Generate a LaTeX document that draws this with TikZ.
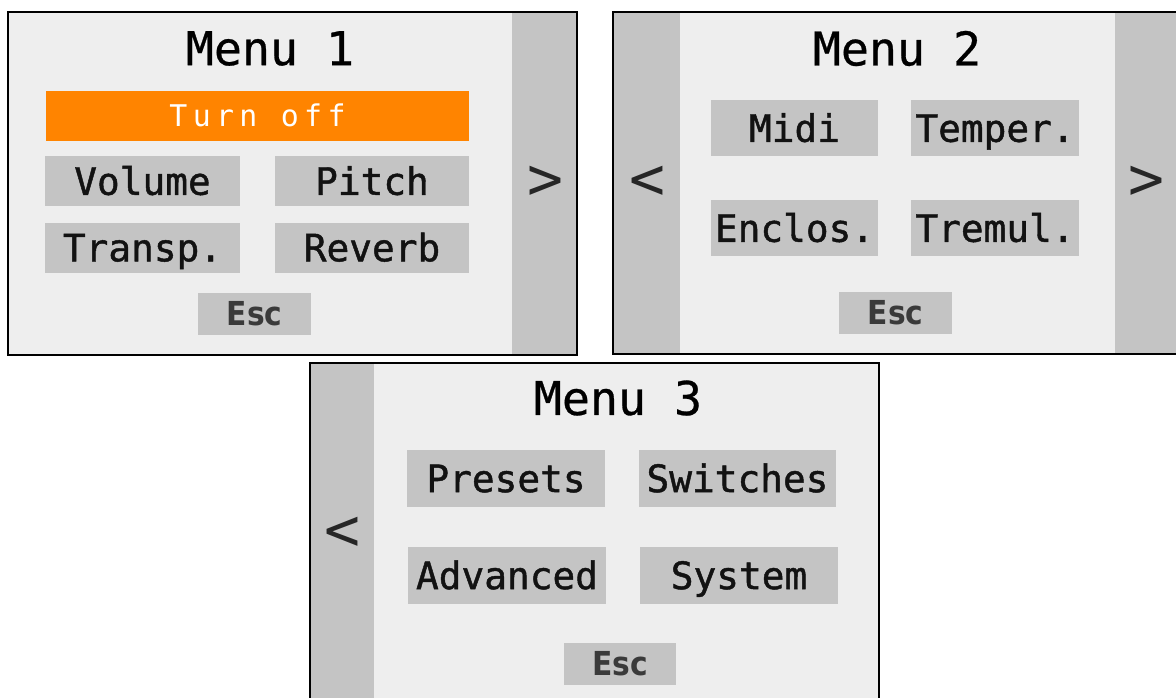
\documentclass[tikz,border=0pt]{standalone}
\usepackage{fontspec}
\newfontfamily\monofont{DejaVu Sans Mono}[FakeBold=0.6]
\newfontfamily\labelfont{DejaVu Sans Mono}[FakeBold=1.2]
\newfontfamily\arrowfont{DejaVu Sans Mono}
\newfontfamily\spacedfont{DejaVu Sans Mono}[LetterSpace=18]
\newfontfamily\escfont{DejaVu Sans Condensed Bold}
\definecolor{screen}{HTML}{EEEEEE}
\definecolor{keygray}{HTML}{C4C4C4}
\definecolor{hot}{HTML}{FF8400}
\definecolor{esctext}{HTML}{3A3A3A}

\begin{document}
\begin{tikzpicture}
[x=0.02cm, y=-0.02cm,
 frame/.style={draw=black, line width=0.05cm},
 title/.style={font=\monofont\fontsize{26.5}{30}\selectfont, text=black},
 btn/.style 2 args={fill=keygray, inner sep=0pt, minimum width=#1, minimum height=#2,
   text height=15.7pt, text depth=0pt, text=black!93,
   font=\labelfont\fontsize{21.5}{24}\selectfont},
 hotbtn/.style={fill=hot, inner sep=0pt, minimum width=8.48cm, minimum height=1cm,
   text height=12.4pt, text depth=0pt, text=white,
   font=\spacedfont\fontsize{17}{20}\selectfont},
 escbtn/.style={fill=keygray, inner sep=0pt, minimum width=2.25cm, minimum height=0.84cm,
   text height=13.6pt, text depth=0pt, text=esctext,
   font=\escfont\fontsize{18.8}{20}\selectfont},
 arrowkey/.style={inner sep=0pt, text=black!85, font=\arrowfont\fontsize{34}{40}\selectfont}]
\useasboundingbox (0,0) rectangle (1176,697);
\clip (0,0) rectangle (1176,697);

\fill[screen] (8,12) rectangle (577,355);
\fill[keygray] (512,12) rectangle (577,355);
\draw[frame] (8,12) rectangle (577,355);
\node[title] (m1) at (270,48.5) {Menu 1};
\node[hotbtn] (off) at (257.5,116) {Turn off};
\node[btn={3.9cm}{1cm}] (vol) at (142.5,181) {Volume};
\node[btn={3.9cm}{1cm}] (pitch) at (372,181) {Pitch};
\node[btn={3.9cm}{1cm}] (transp) at (142.5,247.5) {Transp.};
\node[btn={3.9cm}{1cm}] (reverb) at (372,247.5) {Reverb};
\node[escbtn] (esc1) at (254.5,314) {Esc};
\node[arrowkey] (next1) at (545,183) {>};

\fill[screen] (613,12) rectangle (1190,354);
\fill[keygray] (613,12) rectangle (679.5,354);
\fill[keygray] (1115,12) rectangle (1190,354);
\draw[frame] (613,12) rectangle (1190,354);
\node[title] (m2) at (897,48.5) {Menu 2};
\node[btn={3.36cm}{1.12cm}] (midi) at (794.5,128) {Midi};
\node[btn={3.36cm}{1.12cm}] (temper) at (995,128) {Temper.};
\node[btn={3.36cm}{1.12cm}] (enclos) at (794.5,228) {Enclos.};
\node[btn={3.36cm}{1.12cm}] (tremul) at (995,228) {Tremul.};
\node[escbtn] (esc2) at (895.5,312.5) {Esc};
\node[arrowkey] (prev2) at (647.5,183) {<};
\node[arrowkey] (next2) at (1146,183) {>};

\fill[screen] (310,363) rectangle (879,710);
\fill[keygray] (310,363) rectangle (374,710);
\draw[frame] (310,363) rectangle (879,710);
\node[title] (m3) at (618,398) {Menu 3};
\node[btn={3.95cm}{1.13cm}] (presets) at (506,478.3) {Presets};
\node[btn={3.95cm}{1.13cm}] (switches) at (737.5,478.3) {Switches};
\node[btn={3.95cm}{1.13cm}] (advanced) at (507,575.3) {Advanced};
\node[btn={3.95cm}{1.13cm}] (system) at (739,575.3) {System};
\node[escbtn] (esc3) at (620,664) {Esc};
\node[arrowkey] (prev3) at (342,534) {<};
\end{tikzpicture}
\end{document}
